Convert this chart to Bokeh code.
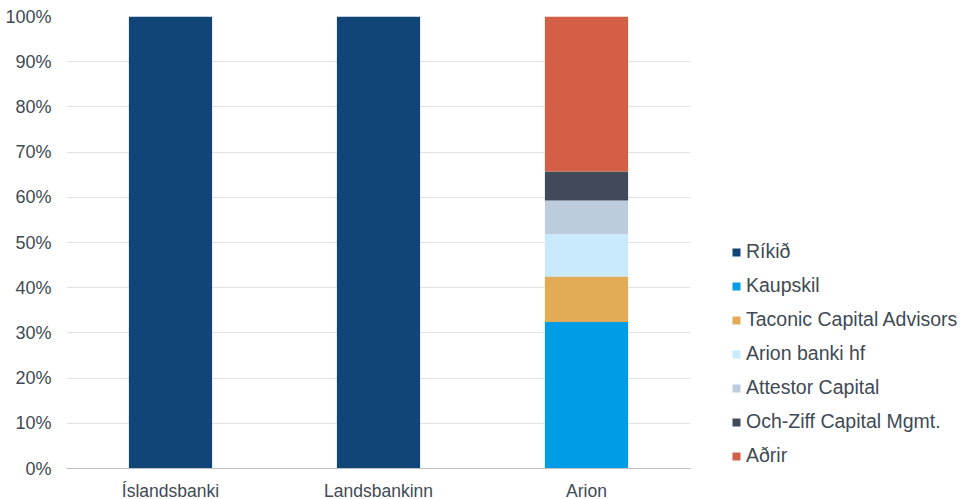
from bokeh.plotting import figure
from bokeh.models import ColumnDataSource, Legend, LegendItem, NumeralTickFormatter, FixedTicker
from bokeh.embed import file_html
from bokeh.resources import INLINE

banks = ["Íslandsbanki", "Landsbankinn", "Arion"]
series = ["Ríkið", "Kaupskil", "Taconic Capital Advisors", "Arion banki hf",
          "Attestor Capital", "Och-Ziff Capital Mgmt.", "Aðrir"]
rikid = [1.0, 1.0, 0.0]
kaupskil = [0.0, 0.0, 0.324]
taconic = [0.0, 0.0, 0.101]
arion_hf = [0.0, 0.0, 0.093]
attestor = [0.0, 0.0, 0.075]
ochziff = [0.0, 0.0, 0.064]
adrir = [0.0, 0.0, 0.343]
colors = ["#124577", "#009DE6", "#E2AC57", "#C9EAFD", "#BDCCDC", "#414A59", "#D25F46"]

keys = ["s0", "s1", "s2", "s3", "s4", "s5", "s6"]
src = ColumnDataSource(dict(x=banks, s0=rikid, s1=kaupskil, s2=taconic, s3=arion_hf,
                            s4=attestor, s5=ochziff, s6=adrir))

FONT = "Liberation Sans"
TXT = "#404A54"

p = figure(x_range=banks, y_range=(0, 1),
           frame_width=624, frame_height=452,
           output_backend="svg", toolbar_location=None,
           min_border_left=66, min_border_top=16, min_border_bottom=20, min_border_right=4)
p.outline_line_color = None

rs = p.vbar_stack(keys, x="x", width=0.4, source=src, color=colors, line_color=None)

p.xaxis.axis_line_color = "#BFBFBF"
p.xaxis.axis_line_width = 1
p.xaxis.major_tick_line_color = None
p.xaxis.minor_tick_line_color = None
p.xaxis.major_label_text_font = FONT
p.xaxis.major_label_text_font_size = "17.5px"
p.xaxis.major_label_text_color = TXT
p.xaxis.major_label_standoff = 6

p.yaxis.axis_line_color = None
p.yaxis.major_tick_line_color = None
p.yaxis.minor_tick_line_color = None
p.yaxis.ticker = FixedTicker(ticks=[i / 10 for i in range(11)])
p.yaxis.formatter = NumeralTickFormatter(format="0%")
p.yaxis.major_label_text_font = FONT
p.yaxis.major_label_text_font_size = "18px"
p.yaxis.major_label_text_color = TXT
p.yaxis.major_label_standoff = 9

p.xgrid.grid_line_color = None
p.ygrid.grid_line_color = "#E3E3E3"

items = [LegendItem(label=s, renderers=[r]) for s, r in zip(series, rs)]
legend = Legend(items=items, location=(41, 1), orientation="vertical",
                label_text_font=FONT, label_text_font_size="19.5px", label_text_color=TXT,
                glyph_width=10, glyph_height=10, label_height=20, spacing=11,
                padding=0, margin=0, border_line_color=None, background_fill_alpha=0,
                label_standoff=5)
p.add_layout(legend, "right")

open("out.html", "w").write(file_html(p, INLINE))
